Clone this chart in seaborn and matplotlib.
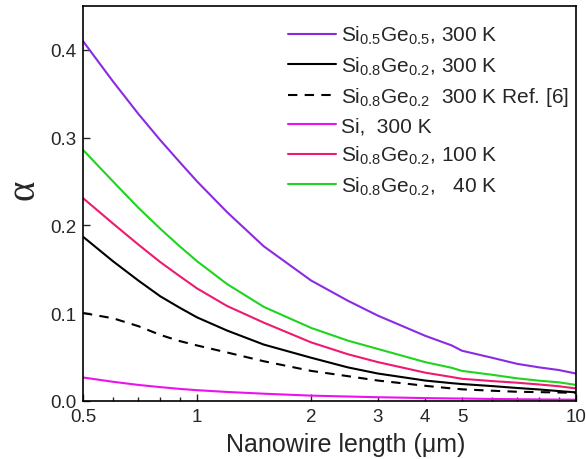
import matplotlib
matplotlib.use("Agg")
import matplotlib.pyplot as plt
from matplotlib.ticker import FixedLocator, FixedFormatter
import seaborn as sns
import pandas as pd

# nanowire length (um)
length = [0.5, 0.6, 0.7, 0.8, 0.9, 1.0, 1.2, 1.5, 2.0, 2.5, 3.0, 4.0, 4.7, 5.0, 6.0, 7.0, 8.0, 9.0, 10.0]

sige55_300 = [0.410, 0.364, 0.327, 0.297, 0.272, 0.250, 0.215, 0.176, 0.137, 0.114, 0.097,
              0.074, 0.063, 0.057, 0.049, 0.042, 0.038, 0.035, 0.031]
sige82_300 = [0.187, 0.159, 0.137, 0.119, 0.106, 0.095, 0.080, 0.064, 0.049, 0.038, 0.031,
              0.023, 0.020, 0.019, 0.0167, 0.0145, 0.0128, 0.011, 0.0095]
sige82_ref6 = [0.100, 0.094, 0.085, 0.075, 0.068, 0.063, 0.055, 0.045, 0.034, 0.028, 0.023,
               0.017, 0.014, 0.013, 0.0114, 0.0102, 0.0098, 0.0094, 0.009]
si_300 = [0.0265, 0.0216, 0.018, 0.0155, 0.0135, 0.012, 0.010, 0.008, 0.0058, 0.0048, 0.004,
          0.003, 0.0026, 0.0025, 0.002, 0.0017, 0.0015, 0.0013, 0.0012]
sige82_100 = [0.231, 0.202, 0.178, 0.158, 0.142, 0.128, 0.108, 0.089, 0.0665, 0.053, 0.044,
              0.032, 0.027, 0.025, 0.0224, 0.0205, 0.0185, 0.0165, 0.014]
sige82_40 = [0.286, 0.250, 0.220, 0.196, 0.176, 0.159, 0.133, 0.107, 0.083, 0.0685, 0.059,
             0.044, 0.0375, 0.034, 0.0296, 0.0255, 0.0228, 0.021, 0.018]

labels = [r"Si$_{0.5}$Ge$_{0.5}$, 300 K",
          r"Si$_{0.8}$Ge$_{0.2}$, 300 K",
          r"Si$_{0.8}$Ge$_{0.2}$  300 K Ref. [6]",
          r"Si,  300 K",
          r"Si$_{0.8}$Ge$_{0.2}$, 100 K",
          r"Si$_{0.8}$Ge$_{0.2}$,   40 K"]

sns.set_style("ticks")
plt.rcParams['font.family'] = ['Liberation Sans', 'DejaVu Sans']
plt.rcParams['mathtext.default'] = 'regular'

df = pd.DataFrame({"length": length, "s1": sige55_300, "s2": sige82_300, "s3": sige82_ref6,
                   "s4": si_300, "s5": sige82_100, "s6": sige82_40})

styles = [("s1", "#8a2be2", "-"), ("s2", "black", "-"), ("s3", "black", (0, (4.5, 3.5))),
          ("s4", "#ee11ee", "-"), ("s5", "#ee1a6e", "-"), ("s6", "#1fd41f", "-")]

fig = plt.figure(figsize=(5.86, 4.6), dpi=100)
ax = fig.add_axes([0.1416, 0.1267, 0.8414, 0.8581])

for (col, color, ls), lab in zip(styles, labels):
    sns.lineplot(data=df, x="length", y=col, color=color, linestyle=ls, linewidth=1.5,
                 label=lab, ax=ax)

ax.set_xscale("log")
ax.set_xlim(0.5, 10)
ax.set_ylim(0, 0.45)

ax.xaxis.set_major_locator(FixedLocator([0.5, 1, 2, 10]))
ax.xaxis.set_major_formatter(FixedFormatter(["0.5", "1", "2", "10"]))
minor = [0.6, 0.7, 0.8, 0.9, 3, 4, 5, 6, 7, 8, 9]
ax.xaxis.set_minor_locator(FixedLocator(minor))
ax.xaxis.set_minor_formatter(FixedFormatter(["", "", "", "", "3", "4", "5", "", "", "", ""]))
ax.set_yticks([0.0, 0.1, 0.2, 0.3, 0.4])
ax.set_yticklabels(["0.0", "0.1", "0.2", "0.3", "0.4"])

ax.tick_params(axis="both", which="major", direction="in", length=5, width=1,
               labelsize=13.5, pad=5, top=False, right=False)
ax.tick_params(axis="x", which="minor", direction="in", length=3, width=1,
               labelsize=13.5, pad=5)
for s in ax.spines.values():
    s.set_linewidth(1.2)
    s.set_color("black")

ax.set_xlabel("Nanowire length (\u03bcm)", fontsize=18)
ax.xaxis.set_label_coords(0.532, -0.078)
ax.set_ylabel("\u03b1", fontsize=28, family=["Liberation Serif", "DejaVu Serif"])
ax.yaxis.set_label_coords(-0.083, 0.536)

ax.legend(loc="upper left", bbox_to_anchor=(288 / 586, 1 - 25 / 460),
          bbox_transform=fig.transFigure, frameon=False, fontsize=15,
          handlelength=2.3, handletextpad=0.25, labelspacing=0.4,
          borderpad=0, borderaxespad=0)

fig.savefig("out.png", dpi=100)
